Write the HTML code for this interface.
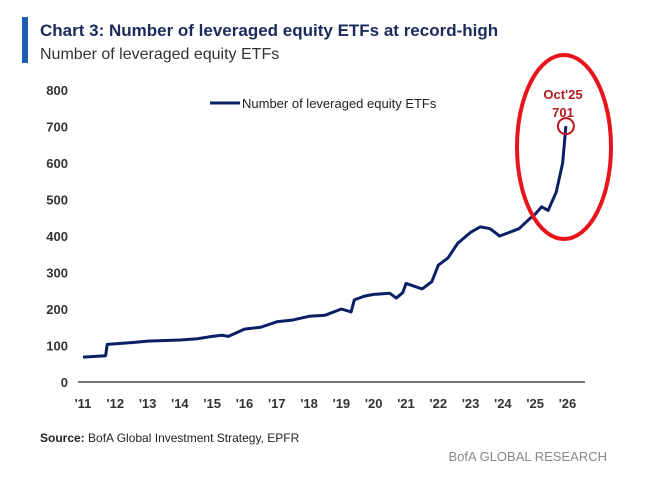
<!DOCTYPE html>
<html><head><meta charset="utf-8"><style>
body{margin:0;background:#fff;width:654px;height:484px;overflow:hidden;font-family:"Liberation Sans",sans-serif}
</style></head><body>
<svg width="654" height="484">
<rect x="22" y="17" width="6" height="46" fill="#1a5fb4"/>
<text x="40" y="36" font-size="17" font-weight="bold" fill="#1a2a5a">Chart 3: Number of leveraged equity ETFs at record-high</text>
<text x="40" y="59" font-size="16" fill="#333">Number of leveraged equity ETFs</text>
<g id="yt"></g>
<g id="xt"></g>
<line x1="78" x2="585" y1="382" y2="382" stroke="#777" stroke-width="2"/>
<line x1="210" x2="240" y1="103" y2="103" stroke="#0b1f66" stroke-width="3"/>
<text x="242" y="108" font-size="13" fill="#222">Number of leveraged equity ETFs</text>
<path id="ln" fill="none" stroke="#0b1f66" stroke-width="3" stroke-linejoin="round"/>
<ellipse cx="564" cy="147" rx="47" ry="92" fill="none" stroke="#e8141c" stroke-width="4"/>
<circle id="pk" r="8" fill="none" stroke="#c0141c" stroke-width="2"/>
<text x="563" y="99" font-size="13" font-weight="bold" fill="#b01c22" text-anchor="middle">Oct'25</text>
<text x="563" y="117" font-size="13" font-weight="bold" fill="#b01c22" text-anchor="middle">701</text>
<text x="40" y="442" font-size="12" fill="#222"><tspan font-weight="bold">Source:</tspan> BofA Global Investment Strategy, EPFR</text>
<text x="607" y="461" font-size="13" fill="#888" text-anchor="end">BofA GLOBAL RESEARCH</text>
</svg>
<script>
const yTicks=[0,100,200,300,400,500,600,700,800];
const xYears=[2011,2012,2013,2014,2015,2016,2017,2018,2019,2020,2021,2022,2023,2024,2025,2026];
const dates=[2011.0,2011.7,2011.75,2012.5,2013,2014,2014.5,2015,2015.3,2015.5,2016,2016.5,2017,2017.5,2018,2018.5,2019,2019.3,2019.4,2019.7,2020,2020.5,2020.7,2020.9,2021,2021.5,2021.8,2022,2022.3,2022.6,2023,2023.3,2023.6,2023.9,2024.2,2024.5,2024.8,2025.0,2025.2,2025.4,2025.65,2025.85,2025.95];
const values=[68,72,103,108,112,115,118,125,128,125,145,150,165,170,180,183,200,192,225,235,240,243,230,245,270,255,275,320,340,380,410,425,420,400,410,420,445,460,480,470,520,600,701];
const X=d=>83+(d-2011)*32.3, Y=v=>382-v*0.365;
const ns="http://www.w3.org/2000/svg";
const yt=document.getElementById('yt'),xt=document.getElementById('xt');
yTicks.forEach(v=>{const t=document.createElementNS(ns,'text');


t.setAttribute('x',68);t.setAttribute('y',Y(v)+5);t.setAttribute('text-anchor','end');t.setAttribute('font-size','13');t.setAttribute('font-weight','bold');t.setAttribute('fill','#333');t.textContent=v;yt.appendChild(t);});
xYears.forEach(v=>{const t=document.createElementNS(ns,'text');


t.setAttribute('x',X(v));t.setAttribute('y',408);t.setAttribute('text-anchor','middle');t.setAttribute('font-size','13');t.setAttribute('font-weight','bold');t.setAttribute('fill','#333');t.textContent="'"+String(v).slice(2);xt.appendChild(t);});
document.getElementById('ln').setAttribute('d',dates.map((d,i)=>(i?'L':'M')+X(d)+','+Y(values[i])).join(''));
const pk=document.getElementById('pk');const L=dates.length-1;
pk.setAttribute('cx',X(dates[L]));pk.setAttribute('cy',Y(values[L]));
</script>
</body></html>
